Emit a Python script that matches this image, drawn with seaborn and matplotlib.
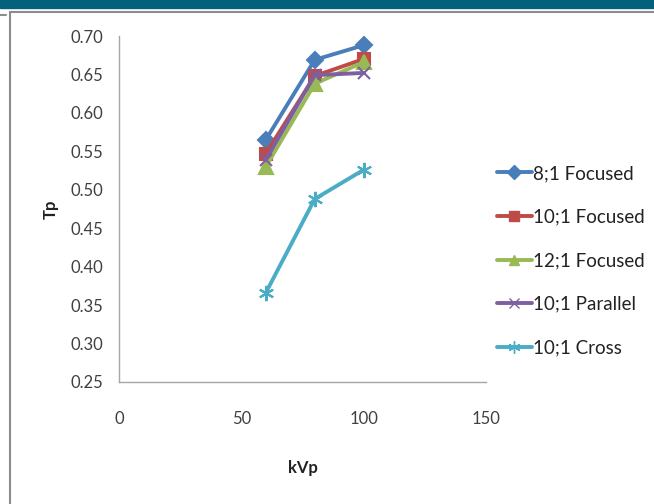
import pandas as pd
import matplotlib.pyplot as plt
import seaborn as sns
from matplotlib.patches import Rectangle
from matplotlib.lines import Line2D

# values
kvp = [60, 80, 100]
focused_8 = [0.565, 0.669, 0.688]
focused_10 = [0.547, 0.648, 0.670]
focused_12 = [0.530, 0.638, 0.666]
parallel_10 = [0.539, 0.649, 0.652]
cross_10 = [0.366, 0.488, 0.526]

series_names = ["8;1 Focused", "10;1 Focused", "12;1 Focused", "10;1 Parallel", "10;1 Cross"]
series_values = [focused_8, focused_10, focused_12, parallel_10, cross_10]
colors = ["#4A7EBB", "#BE4B48", "#98B954", "#7D60A0", "#4BACC6"]
markers = ["D", "s", "^", "x", (6, 2, 0)]
marker_sizes = [8.5, 9, 9.5, 9, 11]

sns.set_style("white")
plt.rcParams['font.family'] = ['Lato', 'DejaVu Sans']

fig = plt.figure(figsize=(6.54, 5.04), dpi=100)
ax = fig.add_axes([119 / 654, 1 - 382 / 504, (486 - 119) / 654, (382 - 36) / 504])

# one lineplot per series (filled and line-art markers can't be mixed in one call)
for name, vals, col, m, ms in zip(series_names, series_values, colors, markers, marker_sizes):
    d = pd.DataFrame({"kVp": kvp, "Tp": vals})
    sns.lineplot(data=d, x="kVp", y="Tp", color=col, marker=m, markersize=ms,
                 markerfacecolor=col, markeredgecolor=col, markeredgewidth=1.5,
                 linewidth=2.8, ax=ax)

ax.set_xlim(0, 150)
ax.set_ylim(0.25, 0.70)
ax.set_xticks([0, 50, 100, 150])
ax.set_yticks([0.25, 0.30, 0.35, 0.40, 0.45, 0.50, 0.55, 0.60, 0.65, 0.70])
ax.set_yticklabels([f"{v:.2f}" for v in ax.get_yticks()])
for s in ["top", "right"]:
    ax.spines[s].set_visible(False)
for s in ["left", "bottom"]:
    ax.spines[s].set_color("#A6A6A6")
    ax.spines[s].set_linewidth(1.0)
ax.tick_params(axis="both", which="both", direction="out", length=5, width=1,
               color="#A6A6A6", labelsize=12, labelcolor="#404040")
ax.tick_params(axis="x", pad=16)
ax.tick_params(axis="y", pad=6)
ax.set_xlabel("kVp", fontsize=12, fontweight="bold", color="#222222", labelpad=24)
ax.set_ylabel("Tp", fontsize=12, fontweight="bold", color="#222222", labelpad=9)

handles = [Line2D([0], [0], color=c, marker=m, markersize=ms * 0.8, linewidth=2.8,
                  markerfacecolor=c, markeredgecolor=c)
           for c, m, ms in zip(colors, markers, marker_sizes)]
fig.legend(handles, series_names, loc="upper left", bbox_to_anchor=(480 / 654, 1 - 148 / 504),
           frameon=False, fontsize=13.5, handlelength=1.85, handletextpad=0.1,
           labelspacing=1.42, labelcolor="#222222")

# slide decoration: teal bar and grey frame
fig.add_artist(Rectangle((0, 1 - 8 / 504), 1, 8 / 504, transform=fig.transFigure,
                         color="#04617B", zorder=10))
fig.add_artist(Line2D([10 / 654, 10 / 654], [0, 1 - 12 / 504], transform=fig.transFigure,
                      color="#8C8C8C", linewidth=1.5))
fig.add_artist(Line2D([10 / 654, 1], [1 - 12 / 504, 1 - 12 / 504], transform=fig.transFigure,
                      color="#8C8C8C", linewidth=1.5))
fig.add_artist(Line2D([0, 6 / 654], [1 - 15 / 504, 1 - 15 / 504], transform=fig.transFigure,
                      color="#8C8C8C", linewidth=1.5))

plt.savefig("out.png", dpi=100)
